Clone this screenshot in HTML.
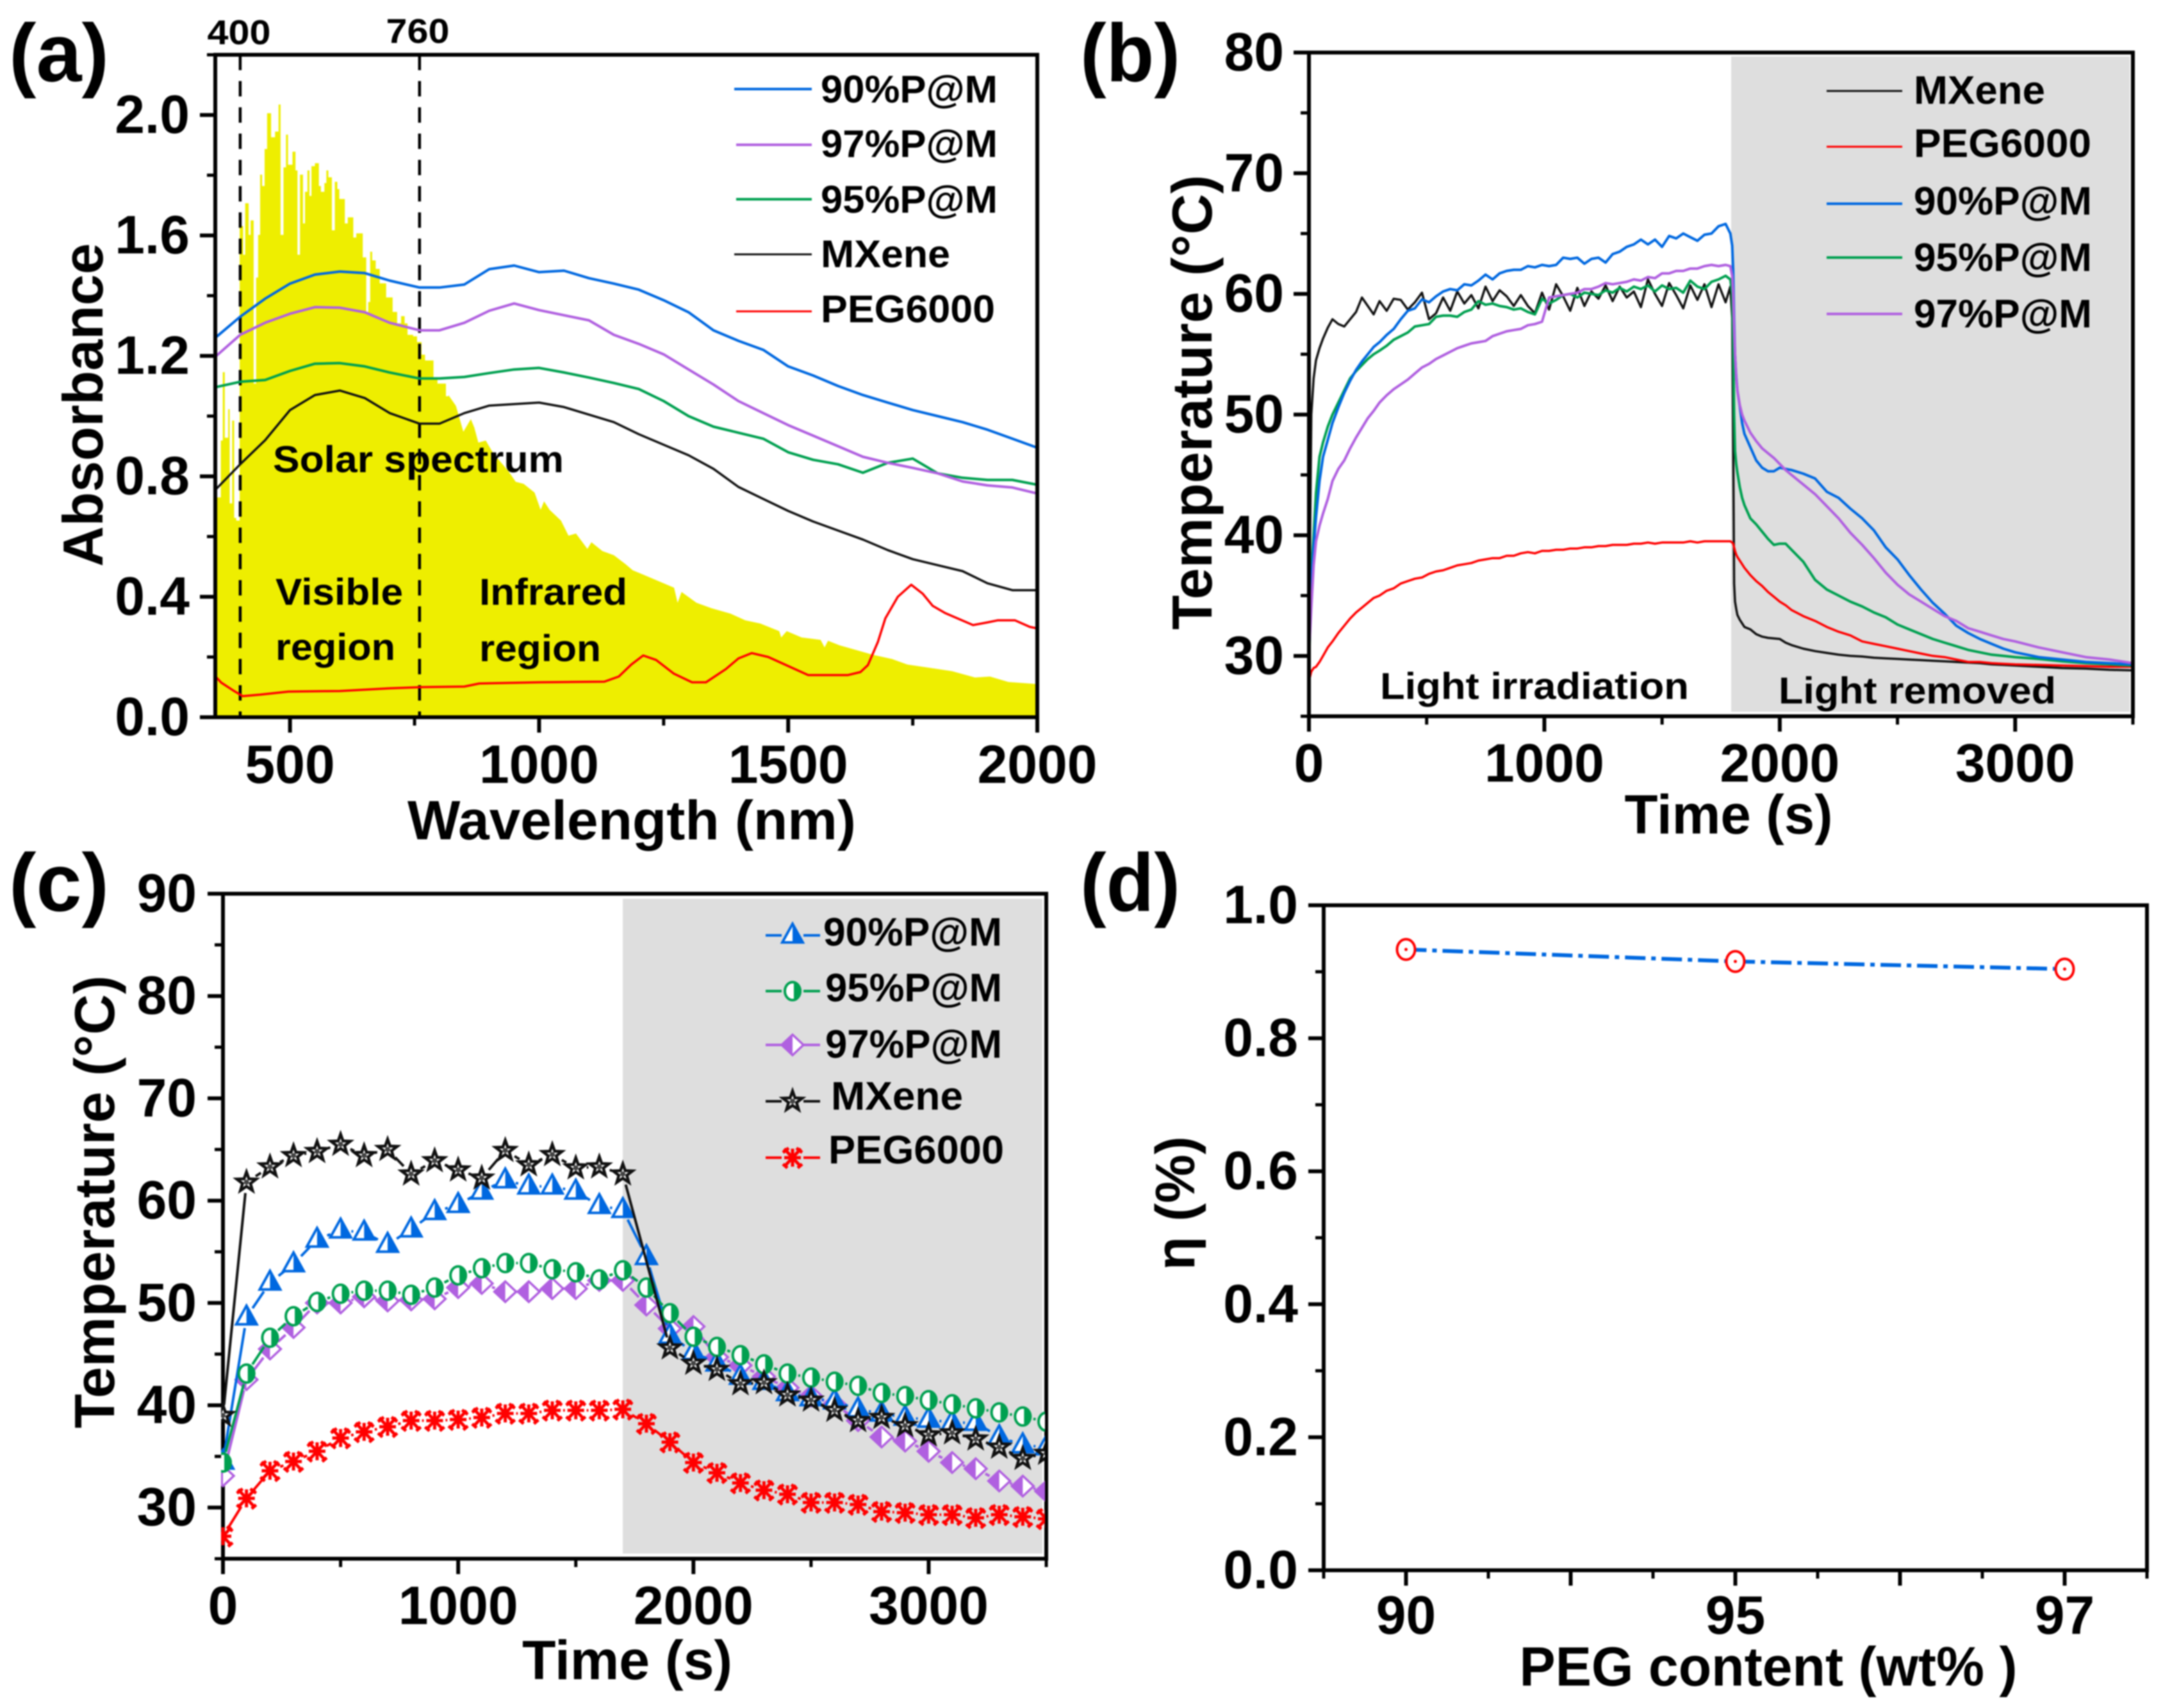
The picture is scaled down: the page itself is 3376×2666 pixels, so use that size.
<!DOCTYPE html>
<html lang="en">
<head>
<meta charset="utf-8">
<title>Absorbance and photothermal performance charts</title>
<style>
html,body{margin:0;padding:0;background:#fff;}
svg{display:block;filter:blur(1px);}
text{font-family:"Liberation Sans",Arial,sans-serif;font-weight:bold;fill:#000;}
</style>
</head>
<body>
<svg id="figure" xmlns="http://www.w3.org/2000/svg" width="3376" height="2666" viewBox="0 0 3376 2666">
  <rect x="0" y="0" width="3376" height="2666" fill="#fff"/>

  <defs>
    <clipPath id="clip-a"><rect x="336" y="85" width="1283" height="1035"/></clipPath>
    <clipPath id="clip-b"><rect x="2030" y="82" width="1299" height="1036"/></clipPath>
    <clipPath id="clip-c"><rect x="345" y="1395" width="1286" height="1038"/></clipPath>
  </defs>

  <!-- Panel layers; marks are drawn by the script below -->
  <g id="panel-a"></g>
  <g id="panel-b">
    <rect x="2702" y="88" width="622" height="1023" fill="#dedede"/>
  </g>
  <g id="panel-c">
    <rect x="972" y="1403" width="655" height="1022" fill="#dedede"/>
  </g>
  <g id="panel-d"></g>

  <!-- Panel letters -->
  <text x="14" y="127" font-size="128" textLength="156" lengthAdjust="spacingAndGlyphs">(a)</text>
  <text x="1686" y="127" font-size="128" textLength="156" lengthAdjust="spacingAndGlyphs">(b)</text>
  <text x="14" y="1422" font-size="128" textLength="156" lengthAdjust="spacingAndGlyphs">(c)</text>
  <text x="1686" y="1422" font-size="128" textLength="156" lengthAdjust="spacingAndGlyphs">(d)</text>

  <!-- Panel a text -->
  <text x="986" y="1310" font-size="86" text-anchor="middle" textLength="700" lengthAdjust="spacingAndGlyphs">Wavelength (nm)</text>
  <text transform="translate(160,632) rotate(-90)" font-size="88" text-anchor="middle" textLength="505" lengthAdjust="spacingAndGlyphs">Absorbance</text>
  <text x="373" y="69" font-size="54" text-anchor="middle" textLength="99" lengthAdjust="spacingAndGlyphs">400</text>
  <text x="652" y="67" font-size="54" text-anchor="middle" textLength="99" lengthAdjust="spacingAndGlyphs">760</text>
  <text x="426" y="737" font-size="58" textLength="454" lengthAdjust="spacingAndGlyphs">Solar spectrum</text>
  <text x="430" y="944" font-size="58" textLength="199" lengthAdjust="spacingAndGlyphs">Visible</text>
  <text x="430" y="1030" font-size="58" textLength="187" lengthAdjust="spacingAndGlyphs">region</text>
  <text x="748" y="944" font-size="58" textLength="231" lengthAdjust="spacingAndGlyphs">Infrared</text>
  <text x="748" y="1032" font-size="58" textLength="190" lengthAdjust="spacingAndGlyphs">region</text>

  <g>
    <line x1="1146" y1="139" x2="1267" y2="139" stroke="#0068e0" stroke-width="4"/>
    <text x="1281" y="160" font-size="60" textLength="276" lengthAdjust="spacingAndGlyphs">90%P@M</text>
    <line x1="1149" y1="226" x2="1267" y2="226" stroke="#b060e0" stroke-width="4"/>
    <text x="1281" y="245" font-size="60" textLength="276" lengthAdjust="spacingAndGlyphs">97%P@M</text>
    <line x1="1149" y1="311" x2="1267" y2="311" stroke="#00a050" stroke-width="4"/>
    <text x="1281" y="332" font-size="60" textLength="276" lengthAdjust="spacingAndGlyphs">95%P@M</text>
    <line x1="1146" y1="397" x2="1267" y2="397" stroke="#111" stroke-width="3"/>
    <text x="1281" y="417" font-size="60" textLength="202" lengthAdjust="spacingAndGlyphs">MXene</text>
    <line x1="1149" y1="486" x2="1267" y2="486" stroke="#ff0000" stroke-width="3"/>
    <text x="1281" y="503" font-size="60" textLength="272" lengthAdjust="spacingAndGlyphs">PEG6000</text>
  </g>

  <!-- Panel b text -->
  <text x="2709" y="1301" font-size="86" text-anchor="middle" textLength="325" lengthAdjust="spacingAndGlyphs" transform="translate(-11,0)">Time (s)</text>
  <text transform="translate(1891,628) rotate(-90)" font-size="88" text-anchor="middle" textLength="710" lengthAdjust="spacingAndGlyphs">Temperature (°C)</text>
  <text x="2154" y="1091" font-size="58" textLength="482" lengthAdjust="spacingAndGlyphs">Light irradiation</text>
  <text x="2776" y="1098" font-size="58" textLength="433" lengthAdjust="spacingAndGlyphs">Light removed</text>

  <g>
    <line x1="2851" y1="142" x2="2969" y2="142" stroke="#111" stroke-width="3"/>
    <text x="2987" y="162" font-size="62" textLength="205" lengthAdjust="spacingAndGlyphs">MXene</text>
    <line x1="2851" y1="229" x2="2969" y2="229" stroke="#ff0000" stroke-width="3"/>
    <text x="2987" y="245" font-size="62" textLength="277" lengthAdjust="spacingAndGlyphs">PEG6000</text>
    <line x1="2851" y1="318" x2="2969" y2="318" stroke="#0068e0" stroke-width="4"/>
    <text x="2987" y="335" font-size="62" textLength="278" lengthAdjust="spacingAndGlyphs">90%P@M</text>
    <line x1="2851" y1="402" x2="2969" y2="402" stroke="#00a050" stroke-width="4"/>
    <text x="2987" y="423" font-size="62" textLength="278" lengthAdjust="spacingAndGlyphs">95%P@M</text>
    <line x1="2851" y1="490" x2="2969" y2="490" stroke="#b060e0" stroke-width="4"/>
    <text x="2987" y="511" font-size="62" textLength="278" lengthAdjust="spacingAndGlyphs">97%P@M</text>
  </g>

  <!-- Panel c text -->
  <text x="979" y="2621" font-size="86" text-anchor="middle" textLength="328" lengthAdjust="spacingAndGlyphs">Time (s)</text>
  <text transform="translate(178,1876) rotate(-90)" font-size="88" text-anchor="middle" textLength="707" lengthAdjust="spacingAndGlyphs">Temperature (°C)</text>

  <g>
    <text x="1285" y="1476" font-size="62" textLength="279" lengthAdjust="spacingAndGlyphs">90%P@M</text>
    <text x="1288" y="1563" font-size="62" textLength="276" lengthAdjust="spacingAndGlyphs">95%P@M</text>
    <text x="1288" y="1651" font-size="62" textLength="276" lengthAdjust="spacingAndGlyphs">97%P@M</text>
    <text x="1297" y="1732" font-size="62" textLength="206" lengthAdjust="spacingAndGlyphs">MXene</text>
    <text x="1293" y="1816" font-size="62" textLength="274" lengthAdjust="spacingAndGlyphs">PEG6000</text>
  </g>

  <!-- Panel d text -->
  <text x="2760" y="2631" font-size="86" text-anchor="middle" textLength="777" lengthAdjust="spacingAndGlyphs">PEG content (wt% )</text>
  <text transform="translate(1864,1878) rotate(-90)" font-size="86" text-anchor="middle" textLength="209" lengthAdjust="spacingAndGlyphs">η (%)</text>
</svg>

<script>
// ---------- Panel (a) data ----------
const absWave = [350,400,450,500,550,600,650,700,760,800,850,900,950,1000,1050,1100,1150,1200,1250,1300,1350,1400,1450,1500,1550,1600,1650,1700,1750,1800,1850,1900,1950,2000];
const abs90 = [1.26,1.33,1.39,1.44,1.47,1.48,1.475,1.45,1.427,1.427,1.437,1.488,1.50,1.478,1.483,1.458,1.44,1.42,1.385,1.345,1.285,1.25,1.22,1.165,1.135,1.10,1.07,1.045,1.02,1.0,.98,.955,.925,.895];
const abs97 = [1.197,1.27,1.31,1.34,1.362,1.36,1.345,1.31,1.285,1.285,1.31,1.35,1.374,1.352,1.335,1.318,1.27,1.24,1.205,1.155,1.105,1.05,1.01,.97,.935,.90,.865,.845,.828,.81,.783,.77,.763,.743];
const abs95 = [1.096,1.114,1.12,1.15,1.174,1.176,1.165,1.145,1.125,1.125,1.13,1.143,1.155,1.16,1.145,1.128,1.11,1.09,1.05,1.0,.965,.945,.925,.88,.855,.84,.812,.845,.859,.81,.795,.788,.788,.772];
const absMxene = [.755,.84,.92,1.02,1.07,1.085,1.06,1.01,.975,.975,1.01,1.035,1.04,1.045,1.03,1.005,.98,.94,.905,.87,.825,.765,.725,.685,.65,.62,.59,.555,.525,.505,.485,.445,.422,.422];
const pegWave = [350,362,385,405,440,497,600,700,765,850,880,1000,1131,1160,1185,1209,1235,1270,1307,1335,1375,1400,1427,1460,1500,1540,1620,1645,1660,1680,1695,1720,1747,1770,1790,1815,1871,1900,1921,1955,1985,2000];
const absPeg = [.136,.115,.09,.07,.075,.085,.087,.096,.10,.102,.112,.116,.118,.135,.175,.205,.19,.145,.116,.116,.16,.195,.213,.2,.17,.14,.14,.15,.173,.25,.328,.40,.44,.41,.37,.346,.306,.315,.322,.322,.30,.295];
const solarWave = [350,354,361,365,369,376,379,384,388,392,399,406,410,417,421,427,432,436,440,444,449,454,462,470,477,481,487,492,496,505,511,515,520,526,530,535,539,543,550,558,562,569,573,577,584,590,595,599,610,616,627,633,646,653,657,661,665,672,680,689,693,706,715,723,730,736,747,755,764,771,788,796,813,818,833,848,863,870,878,893,908,938,953,969,991,1003,1010,1021,1044,1059,1074,1097,1105,1127,1150,1173,1188,1210,1240,1271,1278,1286,1316,1346,1384,1414,1444,1482,1486,1497,1527,1565,1573,1580,1603,1641,1671,1709,1739,1784,1829,1875,1905,1942,2000];
const solarValue = [.73,.73,.919,1.146,.928,1.023,.71,.985,.662,.653,1.631,1.536,1.707,1.602,1.65,1.108,1.46,1.602,1.802,1.764,1.887,2.006,1.926,1.945,2.035,1.602,1.826,1.935,1.835,1.878,1.816,1.536,1.802,1.64,1.745,1.816,1.731,1.83,1.84,1.764,1.745,1.774,1.816,1.793,1.617,1.778,1.754,1.721,1.64,1.66,1.593,1.607,1.527,1.346,1.379,1.546,1.517,1.489,1.441,1.441,1.394,1.346,1.308,1.332,1.308,1.27,1.265,1.246,1.204,1.185,1.128,1.108,1.066,1.07,1.034,.948,.99,.962,.912,.919,.876,.818,.782,.775,.746,.689,.717,.689,.653,.603,.61,.559,.581,.552,.538,.509,.488,.473,.452,.43,.38,.416,.38,.362,.344,.322,.311,.286,.265,.286,.265,.257,.232,.254,.239,.221,.207,.193,.175,.164,.153,.132,.135,.117,.11];
const aXMajor = [500,1000,1500,2000];
const aXMinor = [750,1250,1750];
const aYMajor = [0,0.4,0.8,1.2,1.6,2.0];
const aYMinor = [0.2,0.6,1.0,1.4,1.8,2.2];
const aBoundaries = [400,760];

// ---------- Panel (b) data ----------
const timeRise = [
  0,5,10,20,30,45,60,80,100,125,
  150,175,200,225,250,275,300,330,360,390,
  420,450,480,510,540,570,600,630,660,690,
  720,750,780,810,840,870,900,930,960,990,
  1020,1050,1080,1110,1140,1170,1200,1230,1260,1290,
  1320,1350,1380,1410,1440,1470,1500,1530,1560,1590,
  1620,1650,1680,1710,1740,1770,1790,1798];
const timeFall = [
  1802,1806,1810,1815,1820,1830,1840,1850,1875,1900,
  1925,1950,1975,2000,2025,2050,2100,2150,2200,2250,
  2300,2350,2400,2450,2500,2550,2600,2650,2700,2750,
  2800,2850,2900,2950,3000,3100,3200,3300,3400,3500];

const mxeneRise = [
  28,40,50,53,54.5,55.5,56.3,57.2,57.9,57.5,
  57.3,57.9,58.5,59.7,59,58.3,59.4,58.6,59.6,59.5,
  58.7,59.3,60.1,57.9,58.4,59.7,58.6,60.2,59.2,59.9,
  58.8,60.6,59.4,60.3,59.8,59,59.9,59,58.4,60.1,
  58.7,60.8,59.8,58.6,60.5,59,60.2,59.6,60.7,59.4,
  60.6,59.7,60.2,58.9,61.2,60,59,60.9,59.9,58.8,
  60.7,59.5,60.8,58.9,60.8,59.3,60.6,58];
const mxeneFall = [
  48,36,34.5,33.9,33.4,33,32.7,32.4,32.2,31.8,
  31.6,31.5,31.45,31.4,31.1,30.9,30.6,30.4,30.25,30.1,
  30,29.95,29.85,29.8,29.75,29.7,29.65,29.6,29.55,29.5,
  29.45,29.4,29.3,29.25,29.2,29.1,29,28.95,28.85,28.8];

const pegRise = [
  28,28.3,28.7,29,29.1,29.5,30,30.7,31.2,31.9,
  32.5,33.1,33.6,34,34.4,34.8,35,35.4,35.6,36,
  36.2,36.4,36.5,36.8,37,37.1,37.3,37.5,37.6,37.7,
  37.9,38,38.1,38.1,38.3,38.3,38.5,38.6,38.5,38.7,
  38.7,38.8,38.8,38.9,38.9,39,39,39.1,39.1,39.2,
  39.2,39.2,39.3,39.3,39.4,39.3,39.4,39.4,39.4,39.4,
  39.5,39.4,39.5,39.5,39.5,39.5,39.5,39.4];
const pegFall = [
  39.3,39,38.7,38.4,38.2,37.9,37.6,37.3,36.7,36.2,
  35.8,35.3,34.9,34.5,34.2,33.8,33.3,32.9,32.4,32,
  31.7,31.2,31,30.8,30.6,30.4,30.2,30,29.9,29.7,
  29.5,29.5,29.4,29.35,29.3,29.25,29.2,29.15,29.1,29.1];

const p90Rise = [
  30,33,36,39,41.5,44.5,46.5,47.9,49.3,50.6,
  51.8,52.8,53.7,54.4,55,55.6,56,56.6,57.1,57.9,
  58.6,58.8,59.55,59.3,59.8,60.2,60.4,60.3,60.8,60.7,
  61.1,61.6,61.2,61.7,61.9,62,62,62.3,62.2,62.4,
  62.3,62.4,63,62.9,63,62.5,62.9,63,62.6,63.3,
  63.5,63.9,64.1,64.5,64.1,64.5,63.9,64.8,64.6,65,
  64.7,64.4,64.9,65,65.6,65.8,65,64];
const p90Fall = [
  62,58,55,53.2,52,50.7,49.3,48.4,47.3,46.2,
  45.6,45.3,45.3,45.6,45.5,45.4,45.1,44.7,43.6,43.1,
  42.2,41.4,40.4,39,38,36.7,35.5,34.4,33.5,32.5,
  31.9,31.4,31,30.6,30.3,29.9,29.7,29.5,29.4,29.3];

const p95Rise = [
  28,33,37,40,43.5,46.5,47.7,49,50,51,
  52,53,53.6,54.1,54.6,55,55.3,55.7,56.2,56.5,
  56.8,57.3,57.4,57.5,58.1,58.2,58.2,58.1,58.5,58.7,
  59.4,59.1,59.2,59,58.9,58.7,58.8,58.5,58.3,59.6,
  59.2,59.5,59.9,60,59.7,60.1,60,59.9,60.3,60.1,
  60.5,60.2,60.6,60.4,60.7,60.2,60.7,60.4,60.5,60.1,
  61.1,60.6,60.4,61,61.2,61.5,61.2,60];
const p95Fall = [
  56,50,47,45.9,45.2,44,43.1,42.5,41.4,40.9,
  40.3,39.7,39.2,39.3,39.3,38.8,37.8,36.3,35.5,35,
  34.5,34.1,33.6,33.2,32.6,32.2,31.8,31.4,31.1,30.8,
  30.5,30.3,30.1,30,29.9,29.75,29.55,29.4,29.3,29.2];

const p97Rise = [
  30,32,34,37.5,39.5,40.8,41.8,43,44.5,45.5,
  46.2,47.2,48.1,48.9,49.7,50.3,51,51.6,52.1,52.5,
  52.9,53.4,53.9,54.2,54.6,54.9,55.2,55.5,55.7,55.9,
  56,56.1,56.5,56.7,56.9,57,57.1,57.4,57.5,57.7,
  59.7,59.8,59.9,60,60.1,60.4,60.4,60.6,60.9,60.8,
  60.9,61,61.2,61.1,61.4,61.3,61.7,61.7,61.9,61.9,
  62.1,62.1,62.3,62.4,62.3,62.4,62.3,61.5];
const p97Fall = [
  60,57,55,53,52,50.8,50,49.5,48.5,47.8,
  47.2,46.8,46.4,45.9,45.4,45,44.2,43.4,42.4,41.4,
  40.2,39.2,38.1,36.9,35.9,35.1,34.5,33.9,33.3,32.9,
  32.3,32,31.7,31.4,31.2,30.7,30.3,29.9,29.7,29.4];

const bXMajor = [0,1000,2000,3000];
const bXMinor = [500,1500,2500,3500];
const bYMajor = [30,40,50,60,70,80];
const bYMinor = [25,35,45,55,65,75];

// ---------- Panel (c) data ----------
const timePoints = [0,100,200,300,400,500,600,700,800,900,1000,1100,1200,1300,1400,1500,1600,1700,1800,1900,2000,2100,2200,2300,2400,2500,2600,2700,2800,2900,3000,3100,3200,3300,3400,3500];
const timeMxene = [0,100,200,300,400,500,600,700,800,900,1000,1100,1200,1300,1400,1500,1600,1700,1900,2000,2100,2200,2300,2400,2500,2600,2700,2800,2900,3000,3100,3200,3300,3400,3500];
const pointsMxene = [39,61.8,63.3,64.4,64.8,65.5,64.4,65,62.6,63.9,63,62.2,64.9,63.5,64.5,63.2,63.3,62.6,45.6,44.1,43.5,42.1,42.2,41,40.5,39.5,38.5,38.8,38,37.1,37.3,36.7,35.9,34.8,35.3];
const points90 = [34.5,48.6,52,53.8,56.2,57.1,56.9,55.7,57.2,58.9,59.6,60.9,62,61.4,61.4,60.9,59.5,59.1,54.5,46.8,45.2,44.1,42.8,42.3,41.2,40.7,40.4,39.6,39.2,38.8,38.6,38.3,38.3,36.9,36.1,35.9];
const points95 = [34.4,43.1,46.6,48.7,50.1,50.9,51.2,51.2,50.8,51.5,52.7,53.4,53.9,53.9,53.3,53,52.3,53.2,51.5,49,46.7,45.7,44.9,44,43.1,42.7,42.3,41.9,41.2,40.9,40.5,40.1,39.7,39.3,38.9,38.4];
const points97 = [33.1,42.5,45.5,47.6,50,50,50.6,50.2,50.3,50.4,51.5,51.9,51.1,51.1,51.4,51.4,52.2,52.2,49.8,47.5,47.7,44.7,43.9,42.8,41.7,40.9,40.1,38.5,36.9,36.5,35.5,34.4,33.8,32.6,32.1,31.6];
const pointsPeg = [27.2,30.9,33.6,34.5,35.5,36.8,37.4,37.9,38.5,38.5,38.6,38.8,39.2,39.2,39.5,39.5,39.5,39.6,38.2,36.4,34.4,33.4,32.4,31.7,31.3,30.5,30.5,30.3,29.6,29.5,29.3,29.3,29,29.3,29.1,28.9];
const cXMajor = [0,1000,2000,3000];
const cXMinor = [500,1500,2500,3500];
const cYMajor = [30,40,50,60,70,80,90];
const cYMinor = [25,35,45,55,65,75,85];

// ---------- Panel (d) data ----------
const pegCategories = ['90','95','97'];
const efficiency = [0.9335,0.9155,0.904];
const dYMajor = [0,0.2,0.4,0.6,0.8,1.0];
const dYMinor = [0.1,0.3,0.5,0.7,0.9];
const dXMajor = [0,0.5,1,1.5,2];
const dXMinor = [-0.25,0.25,0.75,1.25,1.75,2.25];

// ---------- Helpers ----------
const NS = 'http://www.w3.org/2000/svg';
const BLUE = '#0068e0', PURPLE = '#b060e0', GREEN = '#00a050', BLACK = '#111111', RED = '#ff0000';
const FONT_TICK = 84, CAP_OFFSET = 28;
const SOLAR_STEP_LIMIT = 818;

function make(tag, parent, name) {
  const e = document.createElementNS(NS, tag);
  
  
  parent.appendChild(e);
  return e;
}
function linear(d0, d1, r0, r1) {
  return v => r0 + (v - d0) * (r1 - r0) / (d1 - d0);
}
function strokeLine(parent, name, x1, y1, x2, y2, color, width) {
  const l = make('line', parent, name);
  l.setAttribute('x1', x1); l.setAttribute('y1', y1);
  l.setAttribute('x2', x2); l.setAttribute('y2', y2);
  l.setAttribute('stroke', color); l.setAttribute('stroke-width', width);
  return l;
}
function tickLabel(parent, name, x, y, anchor, content) {
  const t = make('text', parent, name);
  t.setAttribute('x', x); t.setAttribute('y', y);
  t.setAttribute('text-anchor', anchor);
  t.setAttribute('font-size', FONT_TICK);
  t.textContent = content;
  return t;
}
function drawFrame(parent, p) {
  const r = make('rect', parent, 'plot-frame');
  r.setAttribute('x', p.l); r.setAttribute('y', p.t);
  r.setAttribute('width', p.r - p.l); r.setAttribute('height', p.b - p.t);
  r.setAttribute('fill', 'none'); r.setAttribute('stroke', '#000'); r.setAttribute('stroke-width', 6);
}
function drawAxes(parent, p, sx, sy, xMajor, xMinor, yMajor, yMinor, xFormat, yFormat, xBase, yRight) {
  const g = make('g', parent, 'axes');
  xMajor.forEach(v => {
    strokeLine(g, 'x-major-tick', sx(v), p.b, sx(v), p.b + 24, '#000', 6);
    const lab = xFormat(v);
    if (lab !== null) tickLabel(g, 'x-tick-label', sx(v), xBase, 'middle', lab);
  });
  xMinor.forEach(v => strokeLine(g, 'x-minor-tick', sx(v), p.b, sx(v), p.b + 13, '#000', 5));
  yMajor.forEach(v => {
    strokeLine(g, 'y-major-tick', p.l - 24, sy(v), p.l, sy(v), '#000', 6);
    tickLabel(g, 'y-tick-label', yRight, sy(v) + CAP_OFFSET, 'end', yFormat(v));
  });
  yMinor.forEach(v => strokeLine(g, 'y-minor-tick', p.l - 13, sy(v), p.l, sy(v), '#000', 5));
}
function drawCurve(parent, name, xs, ys, sx, sy, color, width, clip) {
  const d = xs.map((x, i) => (i ? 'L' : 'M') + sx(x).toFixed(1) + ' ' + sy(ys[i]).toFixed(1)).join('');
  const path = make('path', parent, name);
  path.setAttribute('d', d);
  path.setAttribute('fill', 'none');
  path.setAttribute('stroke', color);
  path.setAttribute('stroke-width', width);
  path.setAttribute('stroke-linejoin', 'round');
  if (clip) path.setAttribute('clip-path', 'url(#' + clip + ')');
  return path;
}

// Half-filled point symbols (glyph geometry only, placed at a data position)
function symbolTriangle(g, color) {
  const o = make('polygon', g, 'triangle-outline');
  o.setAttribute('points', '0,-18 16,11 -16,11');
  o.setAttribute('fill', '#fff'); o.setAttribute('stroke', color); o.setAttribute('stroke-width', 4);
  const h = make('polygon', g, 'triangle-half');
  h.setAttribute('points', '0,-18 16,11 0,11');
  h.setAttribute('fill', color);
}
function symbolCircle(g, color) {
  const o = make('ellipse', g, 'circle-outline');
  o.setAttribute('rx', 12); o.setAttribute('ry', 14);
  o.setAttribute('fill', '#fff'); o.setAttribute('stroke', color); o.setAttribute('stroke-width', 4);
  const h = make('path', g, 'circle-half');
  h.setAttribute('d', 'M2 -14A12 14 0 0 1 2 14Z');
  h.setAttribute('fill', color);
}
function symbolDiamond(g, color) {
  const o = make('polygon', g, 'diamond-outline');
  o.setAttribute('points', '-17,0 0,-16 17,0 0,16');
  o.setAttribute('fill', '#fff'); o.setAttribute('stroke', color); o.setAttribute('stroke-width', 3.5);
  const h = make('polygon', g, 'diamond-half');
  h.setAttribute('points', '-17,0 0,-16 0,16');
  h.setAttribute('fill', color);
}
function symbolStar(g, color) {
  const pts = [];
  for (let i = 0; i < 10; i++) {
    const r = i % 2 ? 6.5 : 16;
    const a = -Math.PI / 2 + i * Math.PI / 5;
    pts.push((r * Math.cos(a)).toFixed(1) + ',' + (r * Math.sin(a)).toFixed(1));
  }
  const o = make('polygon', g, 'star-outline');
  o.setAttribute('points', pts.join(' '));
  o.setAttribute('fill', '#fff'); o.setAttribute('stroke', color); o.setAttribute('stroke-width', 4.5);
  const c = make('circle', g, 'star-center');
  c.setAttribute('r', 4);
  c.setAttribute('fill', '#444');
}
function symbolAsterisk(g, color) {
  [[-13,-14,13,14],[-13,14,13,-14],[0,-14,0,14],[-13,0,13,0],[-15,-8,-6,-15],[15,-8,6,-15],[-15,10,-8,16],[15,10,8,16]].forEach(s => {
    strokeLine(g, 'asterisk-arm', s[0], s[1], s[2], s[3], color, 5);
  });
}
function placeSymbol(parent, name, drawer, x, y, color) {
  const g = make('g', parent, name);
  g.setAttribute('transform', 'translate(' + x.toFixed(1) + ',' + y.toFixed(1) + ')');
  drawer(g, color);
}
// Line broken short of each marker, as in the source figure
function gappedPath(parent, name, xs, ys, sx, sy, color, width, gap, clip) {
  let d = '';
  for (let i = 1; i < xs.length; i++) {
    const x0 = sx(xs[i-1]), y0 = sy(ys[i-1]), x1 = sx(xs[i]), y1 = sy(ys[i]);
    const len = Math.hypot(x1 - x0, y1 - y0);
    if (len <= gap * 2) continue;
    const ux = (x1 - x0) / len, uy = (y1 - y0) / len;
    d += 'M' + (x0 + ux * gap).toFixed(1) + ' ' + (y0 + uy * gap).toFixed(1) +
         'L' + (x1 - ux * gap).toFixed(1) + ' ' + (y1 - uy * gap).toFixed(1);
  }
  const path = make('path', parent, name);
  path.setAttribute('d', d);
  path.setAttribute('fill', 'none');
  path.setAttribute('stroke', color);
  path.setAttribute('stroke-width', width);
  if (clip) path.setAttribute('clip-path', 'url(#' + clip + ')');
}

// ---------- Panel (a) ----------
(function () {
  const root = document.getElementById('panel-a');
  const p = {l: 336, r: 1619, t: 85.5, b: 1119.5};
  const x = linear(350, 2000, p.l, p.r);
  const y = linear(0, 2.2, p.b, p.t);

  // Spiky bars in the visible band, fine sawtooth outline through the infrared
  let d = 'M' + x(solarWave[0]) + ' ' + y(0);
  solarWave.forEach((w, i) => {
    const next = i + 1 < solarWave.length ? solarWave[i + 1] : w;
    d += 'L' + x(w).toFixed(1) + ' ' + y(solarValue[i]).toFixed(1);
    if (w < SOLAR_STEP_LIMIT) d += 'L' + x(next).toFixed(1) + ' ' + y(solarValue[i]).toFixed(1);
  });
  d += 'L' + x(2000) + ' ' + y(0) + 'Z';
  const solar = make('path', root, 'solar-spectrum-area');
  solar.setAttribute('d', d);
  solar.setAttribute('fill', '#eeee00');
  solar.setAttribute('clip-path', 'url(#clip-a)');

  aBoundaries.forEach(w => {
    const l = strokeLine(root, 'region-boundary-line', x(w), p.t, x(w), p.b, '#000', 4.5);
    l.setAttribute('stroke-dasharray', '24 17');
  });

  drawCurve(root, 'series-peg6000', pegWave, absPeg, x, y, RED, 3.5, 'clip-a');
  drawCurve(root, 'series-mxene', absWave, absMxene, x, y, BLACK, 3.5, 'clip-a');
  drawCurve(root, 'series-95-percent', absWave, abs95, x, y, GREEN, 4, 'clip-a');
  drawCurve(root, 'series-97-percent', absWave, abs97, x, y, PURPLE, 4, 'clip-a');
  drawCurve(root, 'series-90-percent', absWave, abs90, x, y, BLUE, 4, 'clip-a');

  drawFrame(root, p);
  drawAxes(root, p, x, y, aXMajor, aXMinor, aYMajor, aYMinor, v => String(v), v => v.toFixed(1), 1222, 296);
})();

// ---------- Panel (b) ----------
(function () {
  const root = document.getElementById('panel-b');
  const p = {l: 2043, r: 3329, t: 82, b: 1118};
  const x = linear(0, 3500, p.l, p.r);
  const y = linear(25, 80, p.b, p.t);
  const t = timeRise.concat(timeFall);

  drawCurve(root, 'series-mxene', t, mxeneRise.concat(mxeneFall), x, y, BLACK, 3.5, 'clip-b');
  drawCurve(root, 'series-peg6000', t, pegRise.concat(pegFall), x, y, RED, 3.5, 'clip-b');
  drawCurve(root, 'series-95-percent', t, p95Rise.concat(p95Fall), x, y, GREEN, 4, 'clip-b');
  drawCurve(root, 'series-90-percent', t, p90Rise.concat(p90Fall), x, y, BLUE, 4, 'clip-b');
  drawCurve(root, 'series-97-percent', t, p97Rise.concat(p97Fall), x, y, PURPLE, 4, 'clip-b');

  drawFrame(root, p);
  drawAxes(root, p, x, y, bXMajor, bXMinor, bYMajor, bYMinor, v => String(v), v => String(v), 1220, 2004);
})();

// ---------- Panel (c) ----------
(function () {
  const root = document.getElementById('panel-c');
  const p = {l: 348, r: 1633, t: 1395, b: 2433};
  const x = linear(0, 3500, p.l, p.r);
  const y = linear(25, 90, p.b, p.t);
  const gap = 17;

  // Frame sits under the marks: points at t = 0 cover the left axis
  drawFrame(root, p);
  drawAxes(root, p, x, y, cXMajor, cXMinor, cYMajor, cYMinor, v => String(v), v => String(v), 2535, 307);

  const layers = [
    {name: '97-percent', times: timePoints, values: points97, color: PURPLE, symbol: symbolDiamond},
    {name: '90-percent', times: timePoints, values: points90, color: BLUE, symbol: symbolTriangle},
    {name: '95-percent', times: timePoints, values: points95, color: GREEN, symbol: symbolCircle},
    {name: 'mxene', times: timeMxene, values: pointsMxene, color: BLACK, symbol: symbolStar},
    {name: 'peg6000', times: timePoints, values: pointsPeg, color: RED, symbol: symbolAsterisk}
  ];
  layers.forEach(s => {
    gappedPath(root, 'series-line-' + s.name, s.times, s.values, x, y, s.color, 4, gap, 'clip-c');
    const g = make('g', root, 'series-points-' + s.name);
    g.setAttribute('clip-path', 'url(#clip-c)');
    s.times.forEach((tv, i) => {
      placeSymbol(g, 'point', s.symbol, x(tv), y(s.values[i]), s.color);
    });
  });

  // legend symbols (fixed layout positions)
  const legendRows = [
    {y: 1460, color: BLUE, symbol: symbolTriangle},
    {y: 1547, color: GREEN, symbol: symbolCircle},
    {y: 1631, color: PURPLE, symbol: symbolDiamond},
    {y: 1719, color: BLACK, symbol: symbolStar},
    {y: 1807, color: RED, symbol: symbolAsterisk}
  ];
  legendRows.forEach(r => {
    strokeLine(root, 'legend-line', 1195, r.y, 1220, r.y, r.color, 4);
    strokeLine(root, 'legend-line', 1254, r.y, 1280, r.y, r.color, 4);
    placeSymbol(root, 'legend-symbol', r.symbol, 1237, r.y, r.color);
  });
})();

// ---------- Panel (d) ----------
(function () {
  const root = document.getElementById('panel-d');
  const p = {l: 2066, r: 3351, t: 1413, b: 2451};
  const x = linear(-0.25, 2.25, p.l, p.r);
  const y = linear(0, 1, p.b, p.t);
  const idx = pegCategories.map((c, i) => i);

  const line = drawCurve(root, 'efficiency-line', idx, efficiency, x, y, BLUE, 6);
  line.setAttribute('stroke-dasharray', '32 9 7 9');

  efficiency.forEach((v, i) => {
    const m = make('ellipse', root, 'efficiency-point');
    m.setAttribute('cx', x(i)); m.setAttribute('cy', y(v));
    m.setAttribute('rx', 14); m.setAttribute('ry', 16);
    m.setAttribute('fill', '#fff'); m.setAttribute('stroke', RED); m.setAttribute('stroke-width', 4);
    const c = make('circle', root, 'efficiency-point-center');
    c.setAttribute('cx', x(i)); c.setAttribute('cy', y(v));
    c.setAttribute('r', 2.5); c.setAttribute('fill', RED);
  });

  drawFrame(root, p);
  drawAxes(root, p, x, y, dXMajor, dXMinor, dYMajor, dYMinor,
    v => Number.isInteger(v) ? pegCategories[v] : null, v => v.toFixed(1), 2550, 2026);
})();
</script>
</body>
</html>
